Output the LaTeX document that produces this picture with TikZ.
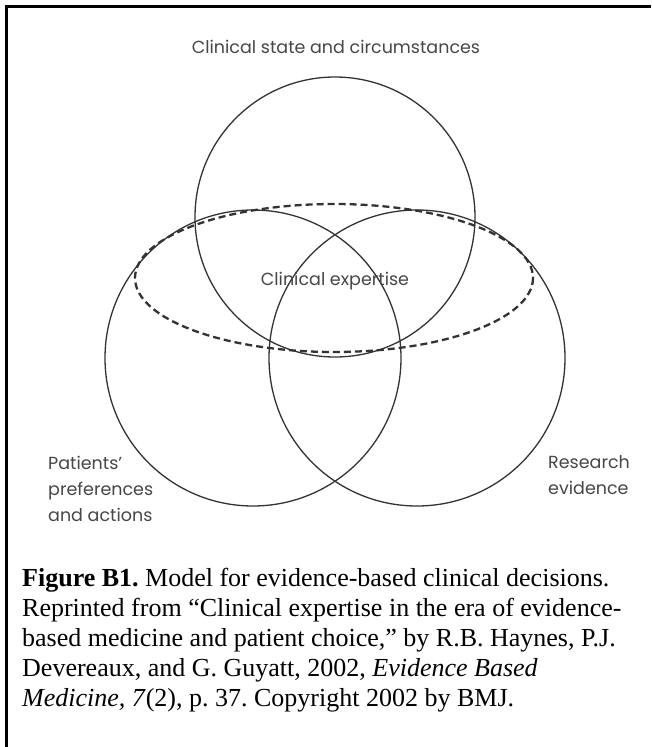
\documentclass[tikz,border=0pt]{standalone}
\usepackage{fontspec}
\setmainfont{Liberation Serif}
\newfontfamily\labelfont{Poppins}
\frenchspacing
\begin{document}
\begin{tikzpicture}[x=1pt,y=-1pt,
  circ/.style={draw=black!80, line width=1.3pt},
  dashell/.style={draw=black!80, line width=2.3pt, dash pattern=on 7pt off 4pt},
  lbl/.style={font=\labelfont\fontsize{17.5}{26}\selectfont, text=black!72, inner sep=0pt},
  capline/.style={font=\fontsize{26}{30}\selectfont\frenchspacing, inner sep=0pt, anchor=base west},
  frame/.style={line width=3pt, draw=black}]
\useasboundingbox (0,0) rectangle (651,747);
\fill[white] (0,0) rectangle (651,747);
\draw[frame] (6.5,747) -- (6.5,6.5) -- (651,6.5);

\coordinate (ctop) at (335,217);
\coordinate (cleft) at (253,358);
\coordinate (cright) at (417,358);
\coordinate (cell) at (334,278);

\draw[circ] (ctop) circle[radius=140];
\draw[circ] (cleft) circle[radius=148];
\draw[circ] (cright) circle[radius=148];
\draw[dashell] (cell) ellipse[x radius=199, y radius=74];

\node[lbl] (ttop) at (336,47) {Clinical state and circumstances};
\node[lbl] (tmid) at (335,281) {Clinical expertise};
\node[lbl, align=left, anchor=north west] (tleft) at (48,456) {Patients’\\preferences\\and actions};
\node[lbl, align=left, anchor=north west] (tright) at (548,455) {Research\\evidence};

\node[capline] (cap1) at (22,586) {\textbf{Figure B1.} Model for evidence-based clinical decisions.};
\node[capline] (cap2) at (22,616) {Reprinted from “Clinical expertise in the era of evidence-};
\node[capline] (cap3) at (22,646) {based medicine and patient choice,” by R.B. Haynes, P.J.};
\node[capline] (cap4) at (22,676) {Devereaux, and G. Guyatt, 2002, \textit{Evidence Based}};
\node[capline] (cap5) at (22,706) {\textit{Medicine, 7}(2), p. 37. Copyright 2002 by BMJ.};
\end{tikzpicture}
\end{document}
